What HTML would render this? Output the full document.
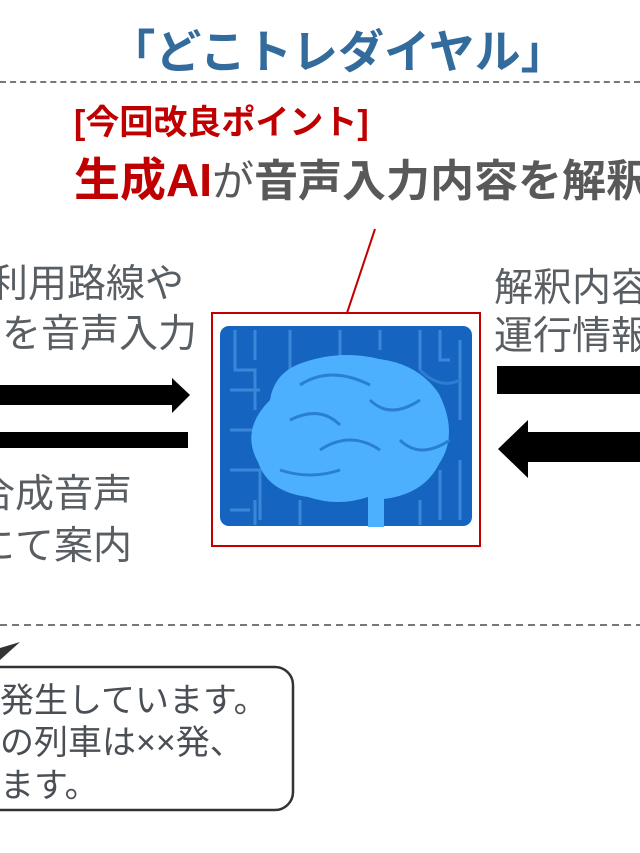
<!DOCTYPE html>
<html><head><meta charset="utf-8"><style>
html,body{margin:0;width:640px;height:853px;overflow:hidden;}
body{background:#fff;position:relative;font-family:"Liberation Sans","Noto Sans CJK JP",sans-serif;}
.a{position:absolute;white-space:nowrap;}
.g{color:#595e63;font-size:39px;line-height:50px;}
.b{color:#4a4f55;font-size:34px;line-height:42px;left:0;}
</style></head><body>
<div class="a" style="left:0;width:676px;top:24px;text-align:center;color:#336b9c;font-size:46px;font-weight:bold;line-height:56px">「どこトレダイヤル」</div>
<div class="a" style="left:0;top:81px;width:640px;border-top:2px dashed #777"></div>
<div class="a" style="left:74px;top:100px;color:#c00000;font-size:34px;font-weight:bold;line-height:46px">[今回改良ポイント]</div>
<div class="a" style="left:74px;top:150px;font-size:46px;font-weight:bold;line-height:60px;color:#c00000">生成AI<span style="color:#595959;font-size:42px;font-weight:normal">が</span><span style="color:#595959;font-size:44px">音声入力内容を解釈</span></div>
<svg class="a" style="left:0;top:0" width="640" height="853">
<line x1="375" y1="229" x2="347" y2="313" stroke="#c00000" stroke-width="2"/>
<rect x="212" y="313" width="268" height="233" fill="none" stroke="#c00000" stroke-width="2"/>
<rect x="220" y="326" width="252" height="200" rx="9" fill="#1565c0"/>
<g stroke="#3a86d8" stroke-width="3" fill="none">
<path d="M235 330v40h20v40M255 330v30M290 330v40M340 330v30M380 330v20M420 330v40M440 330v30h10M460 340v80M230 390h30M230 430h30M230 470h30v50M255 500v25M300 500v25M440 470v50M460 460v60M420 500v25M230 510h20"/>
</g>
<path d="M270 400q-30 30 -12 62q10 30 50 35q30 10 60 0l0 30h16l0-28q40-5 55-35q20-30 0-70q-20-30-60-35q-40-10-80 5q-25 10-29 36z" fill="#4db0ff"/>
<g stroke="#2a7fd0" stroke-width="3" fill="none">
<path d="M300 385q30-20 70 0M290 420q30-15 50 5M320 450q30-20 60 0M370 400q20 20 50 0M400 440q20 20 50 0M280 470q30 10 60 0M420 370q20 20 40 10"/>
</g>
<polygon points="0,385 172,385 172,378 190,395 172,413 172,405 0,405" fill="#000"/>
<rect x="0" y="432" width="188" height="16" fill="#000"/>
<rect x="497" y="366" width="143" height="28" fill="#000"/>
<polygon points="640,432 528,432 528,420 498,449 528,478 528,462 640,462" fill="#000"/>
<line x1="0" y1="625" x2="640" y2="625" stroke="#777" stroke-width="2" stroke-dasharray="7,5"/>
<rect x="-20" y="667" width="313" height="143" rx="18" fill="#fff" stroke="#333" stroke-width="2.5"/>
<polygon points="0,648 20,642 0,660" fill="#333"/>
</svg>
<div class="a g" style="right:456px;top:260px">利用路線や</div>
<div class="a g" style="left:2px;top:310px">を音声入力</div>
<div class="a g" style="right:508px;top:470px">合成音声</div>
<div class="a g" style="right:508px;top:522px">にて案内</div>
<div class="a g" style="left:494px;top:264px">解釈内容を</div>
<div class="a g" style="left:494px;top:312px">運行情報</div>
<div class="a b" style="top:680px">発生しています。</div>
<div class="a b" style="top:722px">の列車は××発、</div>
<div class="a b" style="top:765px">ます。</div>
</body></html>
